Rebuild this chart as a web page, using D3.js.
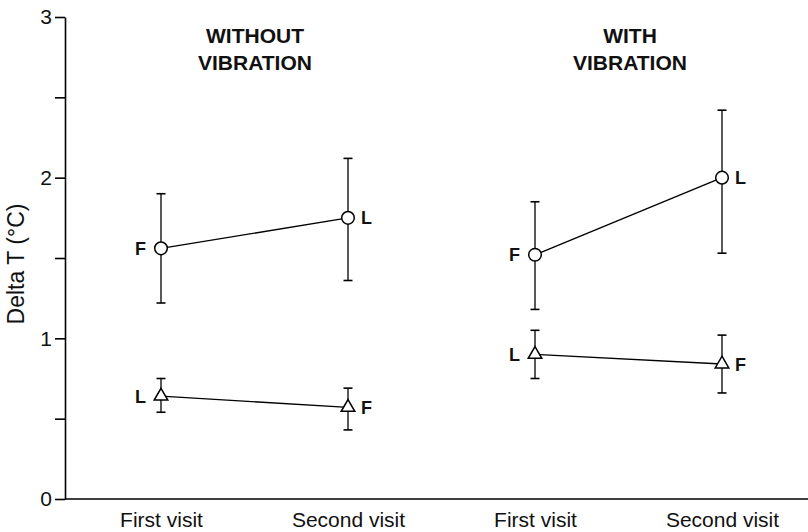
<!DOCTYPE html>
<html>
<head>
<meta charset="utf-8">
<script src="https://cdn.jsdelivr.net/npm/d3@7"></script>
<style>
  html, body { margin: 0; padding: 0; background: #fff; }
  svg { display: block; font-family: "Liberation Sans", Arial, Helvetica, sans-serif; }
</style>
</head>
<body>
<svg id="chart" width="808" height="532"></svg>
<script>
// ---- data ----
const categories = ["First visit", "Second visit", "First visit", "Second visit"];
const panelTitles = [["WITHOUT", "VIBRATION"], ["WITH", "VIBRATION"]];
const yTickLabels = [0, 1, 2, 3];
const yMinorTicks = [0, 0.5, 1, 1.5, 2, 2.5, 3];

// circles (upper series)
const circleMean  = [1.56, 1.75, 1.52, 2.00];
const circleUpper = [1.90, 2.12, 1.85, 2.42];
const circleLower = [1.22, 1.36, 1.18, 1.53];
const circleLabels = ["F", "L", "F", "L"];

// triangles (lower series)
const triMean  = [0.64, 0.57, 0.90, 0.84];
const triUpper = [0.75, 0.69, 1.05, 1.02];
const triLower = [0.54, 0.43, 0.75, 0.66];
const triLabels = ["L", "F", "L", "F"];

// ---- layout ----
const svg = d3.select("#chart");
const x = d3.scalePoint().domain(d3.range(categories.length)).range([161, 722]);
const y = d3.scaleLinear().domain([0, 3]).range([499, 17]);
const axisX0 = 65;
const FONT = "'Liberation Sans', Arial, sans-serif";

// y axis
const yAxis = d3.axisLeft(y).tickValues(yMinorTicks).tickSize(10).tickSizeOuter(0)
  .tickFormat(d => yTickLabels.includes(d) ? d3.format("d")(d) : "");
const gy = svg.append("g").attr("transform", `translate(${axisX0},0)`).call(yAxis);
gy.select(".domain").attr("stroke", "#000").attr("stroke-width", 1.6);
gy.selectAll(".tick line").attr("stroke", "#000").attr("stroke-width", 1.6);
gy.selectAll(".tick text").attr("font-size", 21).attr("fill", "#111").attr("x", -13)
  .attr("font-family", FONT);

// x axis
const xAxis = d3.axisBottom(x).tickSize(0).tickFormat(i => categories[i]);
const gx = svg.append("g").attr("transform", `translate(0,${y(0)})`).call(xAxis);
gx.select(".domain").attr("d", `M${axisX0},0H808`).attr("stroke", "#000").attr("stroke-width", 1.6);
gx.selectAll(".tick text").attr("font-size", 21).attr("fill", "#111").attr("y", 13)
  .attr("dy", "0.71em").attr("font-family", FONT);

// y title
svg.append("text")
  .attr("transform", `translate(24,${264}) rotate(-90)`)
  .attr("text-anchor", "middle")
  .attr("font-size", 23)
  .attr("fill", "#111")
  .text("Delta T (°C)");

// panel titles
const titleX = [255, 630];
panelTitles.forEach((lines, p) => {
  lines.forEach((t, k) => {
    svg.append("text")
      .attr("x", titleX[p]).attr("y", 43 + k * 27)
      .attr("text-anchor", "middle")
      .attr("font-size", 21).attr("font-weight", "bold")
      .attr("fill", "#111")
      .text(t);
  });
});

function drawSeries(mean, upper, lower, labels, symbolType, symSize) {
  const g = svg.append("g");
  [[0, 1], [2, 3]].forEach(pair => {
    g.append("path")
      .datum(pair)
      .attr("fill", "none").attr("stroke", "#000").attr("stroke-width", 1.4)
      .attr("d", d3.line().x(i => x(i)).y(i => y(mean[i])));
  });
  mean.forEach((m, i) => {
    const cx = x(i);
    g.append("line").attr("x1", cx).attr("x2", cx)
      .attr("y1", y(upper[i])).attr("y2", y(lower[i]))
      .attr("stroke", "#000").attr("stroke-width", 1.3);
    [upper[i], lower[i]].forEach(v => {
      g.append("line").attr("x1", cx - 4.5).attr("x2", cx + 4.5)
        .attr("y1", y(v)).attr("y2", y(v))
        .attr("stroke", "#000").attr("stroke-width", 1.6);
    });
  });
  mean.forEach((m, i) => {
    g.append("path")
      .attr("transform", `translate(${x(i)},${y(m)})`)
      .attr("d", d3.symbol().type(symbolType).size(symSize)())
      .attr("fill", "#fff").attr("stroke", "#000").attr("stroke-width", 1.5);
  });
  mean.forEach((m, i) => {
    const left = i % 2 === 0;
    g.append("text")
      .attr("x", left ? x(i) - 15 : x(i) + 13)
      .attr("y", y(m))
      .attr("dy", "0.36em")
      .attr("text-anchor", left ? "end" : "start")
      .attr("font-size", 18).attr("font-weight", "bold")
      .attr("fill", "#111")
      .text(labels[i]);
  });
}

drawSeries(circleMean, circleUpper, circleLower, circleLabels, d3.symbolCircle, 125);
drawSeries(triMean, triUpper, triLower, triLabels, d3.symbolTriangle, 80);
</script>
</body>
</html>
